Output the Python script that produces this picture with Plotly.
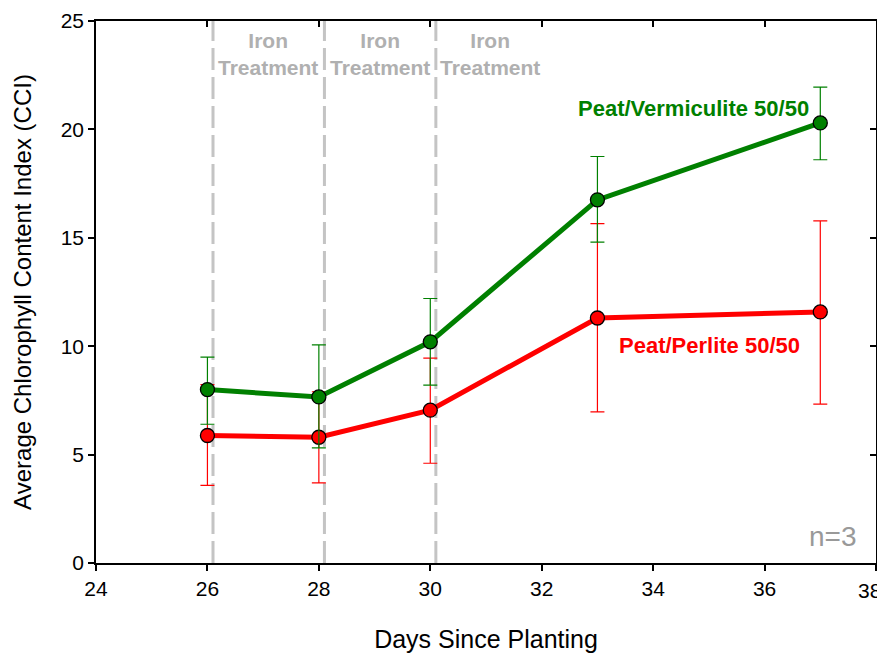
import plotly.graph_objects as go

days = [26, 28, 30, 33, 37]
verm_mean = [8.0, 7.66, 10.2, 16.75, 20.3]
verm_err_up = [1.5, 2.4, 2.0, 2.0, 1.65]
verm_err_dn = [1.6, 2.35, 2.0, 1.95, 1.7]
perl_mean = [5.88, 5.8, 7.05, 11.3, 11.58]
perl_err_up = [2.35, 2.1, 2.4, 4.35, 4.2]
perl_err_dn = [2.3, 2.1, 2.45, 4.33, 4.25]
iron_days = [26.1, 28.1, 30.1]
iron_label_x = [27.09, 29.1, 31.08]
x_max = 38

font = "Liberation Sans, Arial, sans-serif"
fig = go.Figure()

for d in iron_days:
    fig.add_shape(type="line", x0=d, x1=d, y0=0, y1=25, xref="x", yref="y",
                  line=dict(color="#c4c4c4", width=3, dash="22px,7px"), layer="below")
for lx in iron_label_x:
    fig.add_annotation(x=lx, y=23.48, xref="x", yref="y", text="<b>Iron<br>Treatment</b>",
                       showarrow=False, font=dict(family=font, size=21, color="#b0b0b0"),
                       align="center")

fig.add_trace(go.Scatter(
    x=days, y=perl_mean, mode="lines+markers",
    line=dict(color="#ff0000", width=5),
    marker=dict(size=14, color="#ff0000", line=dict(color="black", width=1.3)),
    error_y=dict(type="data", array=perl_err_up, arrayminus=perl_err_dn, color="#ff0000",
                 thickness=1.2, width=7),
    showlegend=False))
fig.add_trace(go.Scatter(
    x=days, y=verm_mean, mode="lines+markers",
    line=dict(color="#008000", width=5),
    marker=dict(size=14, color="#008000", line=dict(color="black", width=1.3)),
    error_y=dict(type="data", array=verm_err_up, arrayminus=verm_err_dn, color="#008000",
                 thickness=1.2, width=7),
    showlegend=False))

fig.add_annotation(x=34.73, y=20.95, xref="x", yref="y", text="<b>Peat/Vermiculite 50/50</b>",
                   showarrow=False, font=dict(family=font, size=22, color="#008000"))
fig.add_annotation(x=35.02, y=10.05, xref="x", yref="y", text="<b>Peat/Perlite 50/50</b>",
                   showarrow=False, font=dict(family=font, size=22, color="#ff0000"))
fig.add_annotation(x=37.7, y=1.2, xref="x", yref="y", text="n=3", xanchor="right",
                   showarrow=False, font=dict(family=font, size=28, color="#999999"))
# last tick label at the right page edge
fig.add_annotation(x=x_max, y=0, xref="x", yref="y", text=str(x_max), showarrow=False,
                   xanchor="right", xshift=7, yanchor="middle", yshift=-27,
                   font=dict(family=font, size=21, color="black"))

axis_common = dict(showgrid=False, zeroline=False, showline=True, linecolor="black", linewidth=1.5,
                   tickcolor="black", ticklen=6, tickwidth=1.5, automargin=False,
                   tickfont=dict(family=font, size=21, color="black"))

fig.update_layout(
    width=877, height=646,
    margin=dict(l=88, r=9, t=13, b=91),
    plot_bgcolor="white", paper_bgcolor="white",
    xaxis=dict(range=[24, x_max], dtick=2, ticks="outside",
               title=dict(text="Days Since Planting", font=dict(family=font, size=25, color="black"),
                          standoff=32),
               **axis_common),
    yaxis=dict(range=[0, 25], dtick=5, ticks="outside",
               title=dict(text="Average Chlorophyll Content Index (CCI)",
                          font=dict(family=font, size=24, color="black"), standoff=22),
               **axis_common),
    xaxis2=dict(range=[24, x_max], dtick=2, ticks="inside", overlaying="x", side="top",
                showticklabels=False, **axis_common),
    yaxis2=dict(range=[0, 25], dtick=5, ticks="inside", overlaying="y", side="right",
                showticklabels=False, **axis_common),
)
fig.add_trace(go.Scatter(x=[None], y=[None], xaxis="x2", yaxis="y2", showlegend=False))

fig.write_html("out.html")
